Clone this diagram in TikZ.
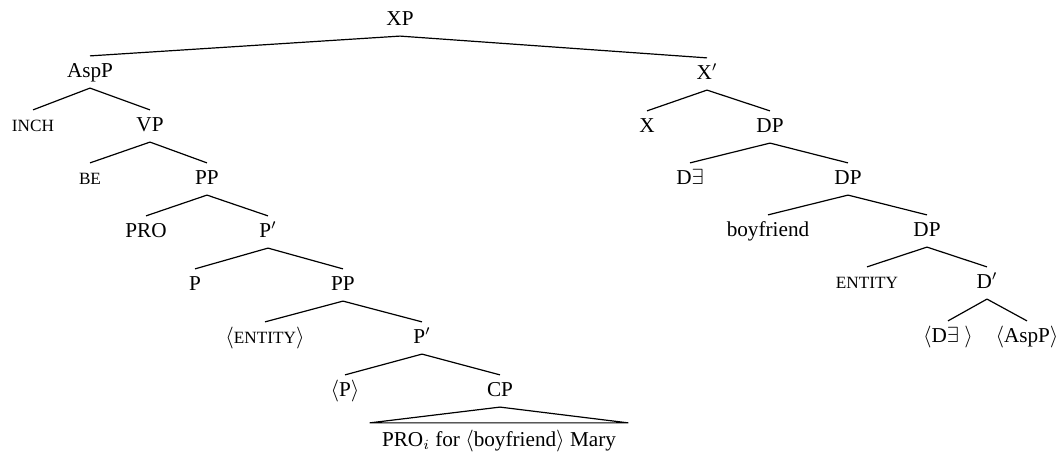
\documentclass[tikz,border=0pt]{standalone}
\usepackage{amsmath, amssymb}
\usepackage{fontspec}
\setmainfont{Liberation Serif}
\usepackage{tikz}

\newcommand{\fsc}[1]{{\fontsize{8.6}{10}\selectfont #1}}

\tikzset{
  cat/.style={font=\fontsize{10.6}{12}\selectfont, inner xsep=1pt, inner ysep=3pt, text height=7.5pt, text depth=2.2pt},
  br/.style={line width=0.6pt}
}

\begin{document}
\begin{tikzpicture}[x=0.5pt, y=-0.5pt, every node/.style={cat}]
        \useasboundingbox (0,0) rectangle (1062,458);

        % left branch
        \node (xp) at (400,20) {XP};
        \node (asp) at (90,72) {AspP};
        \node (inch) at (33,126) {\fsc{INCH}};
        \node (vp) at (150,126) {VP};
        \node (be) at (90,179) {\fsc{BE}};
        \node (pp1) at (207,179) {PP};
        \node (pro) at (146,232) {PRO};
        \node (pbar1) at (268,232) {P$'$};
        \node (p) at (195,285) {P};
        \node (pp2) at (343,285) {PP};
        \node (ent) at (265,338) {$\langle$\fsc{ENTITY}$\rangle$};
        \node (pbar2) at (422,338) {P$'$};
        \node (ptr) at (345,391) {$\langle$P$\rangle$};
        \node (cp) at (500,391) {CP};
        \node[inner xsep=6pt, inner ysep=4pt] (leaf) at (499,441) {PRO$_i$ for $\langle$boyfriend$\rangle$ Mary};

        % right branch
        \node (xbar) at (707,74) {X$'$};
        \node (x) at (647,127) {X};
        \node (dp1) at (770,127) {DP};
        \node (dex) at (690,179) {D$\exists$};
        \node (dp2) at (848,179) {DP};
        \node (bf) at (768,231) {boyfriend};
        \node (dp3) at (927,231) {DP};
        \node (ent2) at (867,283) {\fsc{ENTITY}};
        \node (dbar) at (987,283) {D$'$};
        \node (dextr) at (948,337) {$\langle$D$\exists$\ $\rangle$};
        \node (asptr) at (1027,337) {$\langle$AspP$\rangle$};

        \draw[br] (xp.south) -- (asp.north) (xp.south) -- (xbar.north);
        \draw[br] (asp.south) -- (inch.north) (asp.south) -- (vp.north);
        \draw[br] (vp.south) -- (be.north) (vp.south) -- (pp1.north);
        \draw[br] (pp1.south) -- (pro.north) (pp1.south) -- (pbar1.north);
        \draw[br] (pbar1.south) -- (p.north) (pbar1.south) -- (pp2.north);
        \draw[br] (pp2.south) -- (ent.north) (pp2.south) -- (pbar2.north);
        \draw[br] (pbar2.south) -- (ptr.north) (pbar2.south) -- (cp.north);
        \draw[br] (cp.south) -- (leaf.north west) -- (leaf.north east) -- cycle;

        \draw[br] (xbar.south) -- (x.north) (xbar.south) -- (dp1.north);
        \draw[br] (dp1.south) -- (dex.north) (dp1.south) -- (dp2.north);
        \draw[br] (dp2.south) -- (bf.north) (dp2.south) -- (dp3.north);
        \draw[br] (dp3.south) -- (ent2.north) (dp3.south) -- (dbar.north);
        \draw[br] (dbar.south) -- (dextr.north) (dbar.south) -- (asptr.north);
    \end{tikzpicture}
\end{document}
